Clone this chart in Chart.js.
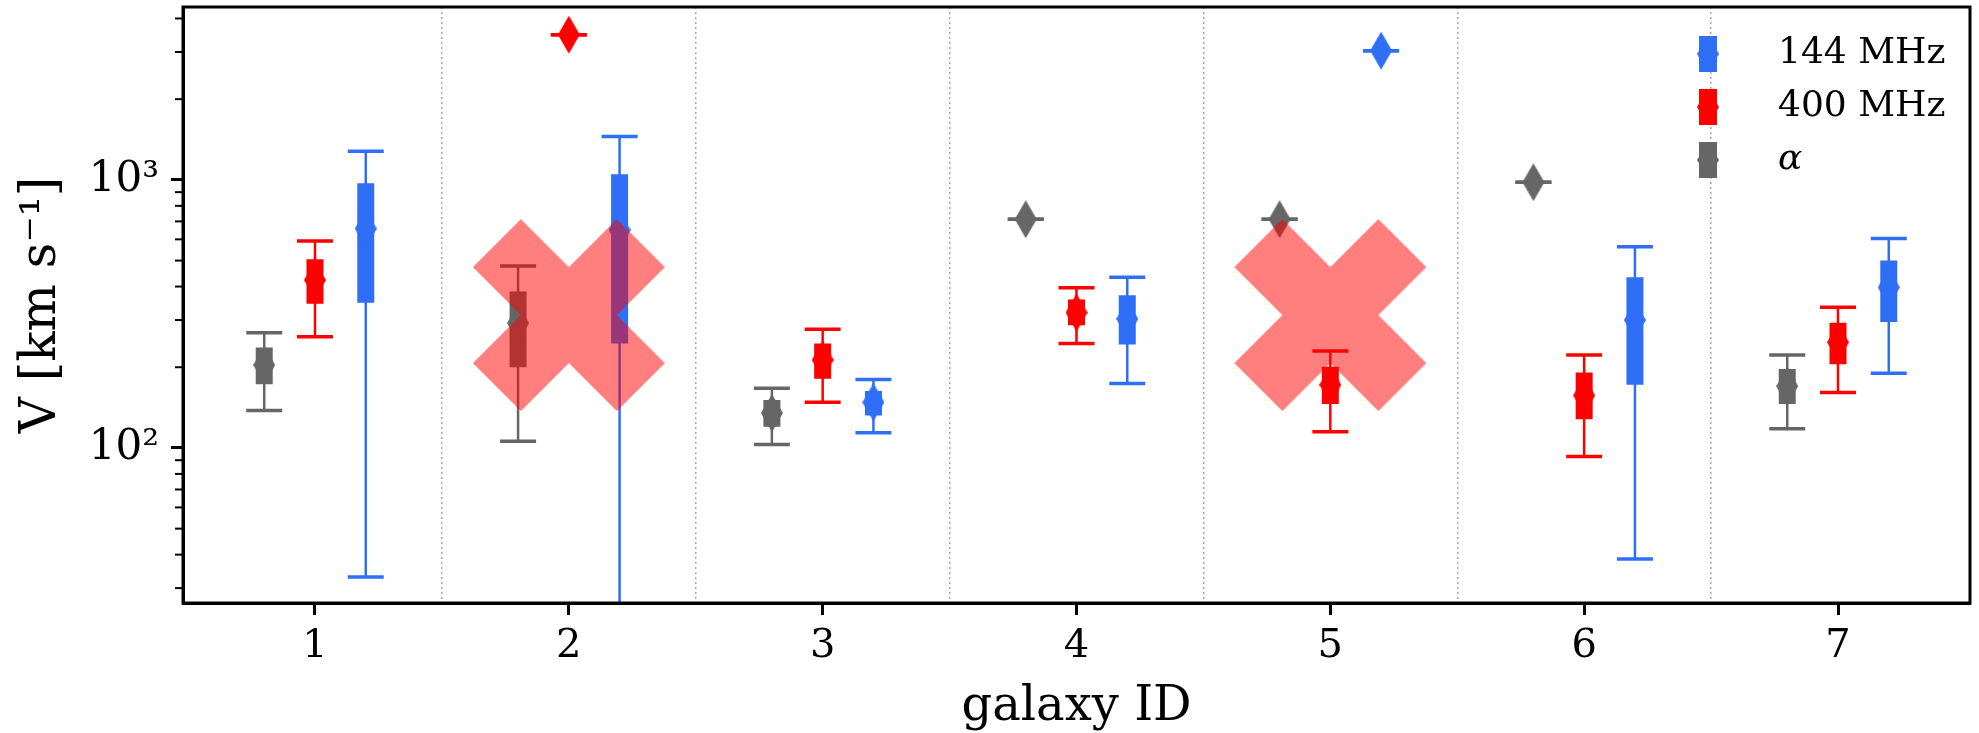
<!DOCTYPE html>
<html>
<head>
<meta charset="utf-8">
<script src="https://cdn.jsdelivr.net/npm/chart.js@4.4.1/dist/chart.umd.min.js"></script>
<style>
  html, body { margin: 0; padding: 0; background: #fff; }
  #wrap { width: 1979px; height: 733px; position: relative; }
</style>
</head>
<body>
<div id="wrap"><canvas id="chart-velocity"></canvas></div>
<script>
var galaxyIds = [1, 2, 3, 4, 5, 6, 7];
var xTickLabels = ['1', '2', '3', '4', '5', '6', '7'];
var yTickValues = [100, 1000];
var yTickLabels = ['10²', '10³'];

// alpha (grey), drawn left of each id
var alphaLow  = [138, 106, 103, 713, 713, 980, 118];
var alphaQ1   = [173, 200, 120, null, null, null, 146];
var alphaMid  = [204, 292, 135, 713, 713, 980, 170];
var alphaQ3   = [237, 383, 151, null, null, null, 197];
var alphaHigh = [269, 477, 167, 713, 713, 980, 222];

// 400 MHz (red), centred
var mhz400Low  = [260, 3480, 148, 245, 115, 93, 161];
var mhz400Q1   = [345, null, 181, 287, 146, 128, 205];
var mhz400Mid  = [423, 3480, 213, 320, 172, 157, 248];
var mhz400Q3   = [506, null, 245, 358, 201, 191, 293];
var mhz400High = [592, 3480, 277, 396, 230, 222, 335];

// 144 MHz (blue), right of each id
var mhz144Low  = [33, 10, 114, 174, 3034, 38.5, 190];
var mhz144Q1   = [348, 245, 132, 243, null, 172, 295];
var mhz144Mid  = [658, 650, 148, 303, 3034, 300, 397];
var mhz144Q3   = [972, 1050, 163, 371, null, 433, 500];
var mhz144High = [1279, 1451, 180, 433, 3034, 563, 604];

// rejected galaxies
var crossedIds = [2, 5];
var crossedLevel = [313, 313];

var seriesNames = ['144 MHz', '400 MHz', 'α'];
var seriesColors = ['rgb(47,111,245)', '#ff0000', '#666666'];

Chart.defaults.font.family = 'DejaVu Serif';
Chart.defaults.color = '#000';

function makeDiamond(color) {
    var c = document.createElement('canvas');
    c.width = 22; c.height = 38;
    var g = c.getContext('2d');
    g.fillStyle = color;
    g.beginPath();
    g.moveTo(11, 0); g.lineTo(22, 19); g.lineTo(11, 38); g.lineTo(0, 19);
    g.closePath();
    g.fill();
    return c;
}

function makeCross() {
    var c = document.createElement('canvas');
    c.width = 192; c.height = 192;
    var g = c.getContext('2d');
    var pts = [[-1, -2], [0, -1], [1, -2], [2, -1], [1, 0], [2, 1], [1, 2], [0, 1], [-1, 2], [-2, 1], [-1, 0], [-2, -1]];
    g.fillStyle = 'rgba(255,0,0,0.5)';
    g.beginPath();
    pts.forEach(function(p, i) {
        var px = 96 + p[0] * 48, py = 96 + p[1] * 48;
        if (i === 0) g.moveTo(px, py); else g.lineTo(px, py);
    });
    g.closePath();
    g.fill();
    return c;
}

function errorDatasets(color, offset, low, q1, mid, q3, high, order) {
    var whisker = [], box = [], centre = [];
    galaxyIds.forEach(function(id, i) {
        var x = id + offset;
        whisker.push({x: x, y: low[i]}, {x: x, y: high[i]}, {x: x, y: null});
        if (q1[i] !== null) box.push({x: x, y: q1[i]}, {x: x, y: q3[i]}, {x: x, y: null});
        centre.push({x: x, y: mid[i]});
    });
    return [
        {type: 'line', data: whisker, xAxisID: 'x', yAxisID: 'y', borderColor: color, borderWidth: 2.5,
         spanGaps: false, fill: false, pointStyle: 'line', pointRadius: 18, pointBorderWidth: 3.5,
         pointBorderColor: color, order: order + 2},
        {type: 'line', data: box, xAxisID: 'x', yAxisID: 'y', borderColor: color, borderWidth: 17,
         borderCapStyle: 'butt', spanGaps: false, fill: false, pointRadius: 0, order: order + 1},
        {type: 'scatter', data: centre, xAxisID: 'x', yAxisID: 'y', pointStyle: makeDiamond(color),
         pointRadius: 18, order: order}
    ];
}

var datasets = [].concat(
    errorDatasets(seriesColors[2], -0.2, alphaLow, alphaQ1, alphaMid, alphaQ3, alphaHigh, 30),
    errorDatasets(seriesColors[1], 0, mhz400Low, mhz400Q1, mhz400Mid, mhz400Q3, mhz400High, 20),
    errorDatasets(seriesColors[0], 0.2, mhz144Low, mhz144Q1, mhz144Mid, mhz144Q3, mhz144High, 10),
    [{type: 'scatter', xAxisID: 'x', yAxisID: 'y', order: 0, pointStyle: makeCross(), pointRadius: 96,
      data: crossedIds.map(function(id, i) { return {x: id, y: crossedLevel[i]}; })}]
);

var frameAndLegend = {
    id: 'frameAndLegend',
    afterDraw: function(chart) {
        var ctx = chart.ctx, a = chart.chartArea, ys = chart.scales.y;
        ctx.save();
        // minor ticks of the log axis
        ctx.strokeStyle = '#000';
        ctx.lineWidth = 2;
        for (var k = Math.floor(Math.log10(ys.min)); k <= Math.ceil(Math.log10(ys.max)); k++) {
            for (var m = 2; m <= 9; m++) {
                var v = m * Math.pow(10, k);
                if (v < ys.min || v > ys.max) continue;
                var py = ys.getPixelForValue(v);
                ctx.beginPath(); ctx.moveTo(a.left - 8, py); ctx.lineTo(a.left, py); ctx.stroke();
            }
        }
        // box around the axes
        ctx.lineWidth = 3;
        ctx.strokeRect(a.left, a.top, a.right - a.left, a.bottom - a.top);
        // legend, top right inside the axes
        var ix = a.right - 262, tx = a.right - 192;
        seriesNames.forEach(function(name, i) {
            var cy = a.top + 47 + i * 53;
            ctx.fillStyle = seriesColors[i];
            ctx.fillRect(ix - 9, cy - 18, 18, 36);
            ctx.beginPath();
            ctx.moveTo(ix, cy - 18); ctx.lineTo(ix + 11, cy); ctx.lineTo(ix, cy + 18); ctx.lineTo(ix - 11, cy);
            ctx.closePath(); ctx.fill();
            ctx.fillStyle = '#000';
            ctx.textBaseline = 'middle';
            ctx.textAlign = 'left';
            ctx.font = (name === 'α' ? 'italic ' : '') + '36px "DejaVu Serif"';
            ctx.fillText(name, tx, cy);
        });
        ctx.restore();
    }
};

var ctx = document.getElementById('chart-velocity');
var velocityChart = new Chart(ctx, {
    type: 'scatter',
    data: { datasets: datasets },
    plugins: [frameAndLegend],
    options: {
        responsive: true,
        maintainAspectRatio: false,
        animation: false,
        events: [],
        layout: { autoPadding: false, padding: { top: 7, right: 9, left: 0, bottom: 0 } },
        plugins: { legend: { display: false }, tooltip: { enabled: false } },
        scales: {
            x: {
                type: 'linear', position: 'bottom', min: 0.48, max: 7.52,
                afterBuildTicks: function(s) { s.ticks = galaxyIds.map(function(v) { return {value: v}; }); },
                ticks: {
                    callback: function(v) { return xTickLabels[galaxyIds.indexOf(v)]; },
                    font: { size: 40 }, color: '#000', padding: 8, maxRotation: 0, autoSkip: false
                },
                grid: { drawOnChartArea: false, drawTicks: true, tickLength: 12, tickWidth: 3, tickColor: '#000' },
                border: { display: true, color: '#000', width: 3 },
                title: { display: true, text: 'galaxy ID', font: { size: 48, lineHeight: 1.0 }, color: '#000', padding: { top: 0, bottom: 1 } },
                afterFit: function(s) { s.height = 130; s.paddingLeft = 0; s.paddingRight = 0; }
            },
            x2: {
                type: 'linear', position: 'top', min: 0.48, max: 7.52,
                afterBuildTicks: function(s) { s.ticks = galaxyIds.slice(1).map(function(v) { return {value: v - 0.5}; }); },
                ticks: { display: false },
                grid: { drawTicks: false, color: '#aaaaaa', lineWidth: 1.5 },
                border: { display: false, dash: [2, 3] },
                afterFit: function(s) { s.height = 0; s.paddingLeft = 0; s.paddingRight = 0; }
            },
            y: {
                type: 'logarithmic', position: 'left', min: 26.4, max: 4414,
                afterBuildTicks: function(s) { s.ticks = yTickValues.map(function(v) { return {value: v, major: true}; }); },
                ticks: {
                    callback: function(v) { return yTickLabels[yTickValues.indexOf(v)]; },
                    font: { size: 42 }, color: '#000', padding: 12, autoSkip: false
                },
                grid: { drawOnChartArea: false, tickLength: 12, tickWidth: 3, tickColor: '#000' },
                border: { display: true, color: '#000', width: 3 },
                title: { display: true, text: 'V [km s⁻¹]', font: { size: 50 }, color: '#000', padding: { top: 12, bottom: 0 } },
                afterFit: function(s) { s.width = 183; s.paddingTop = 0; s.paddingBottom = 0; }
            }
        }
    }
});
</script>
</body>
</html>
